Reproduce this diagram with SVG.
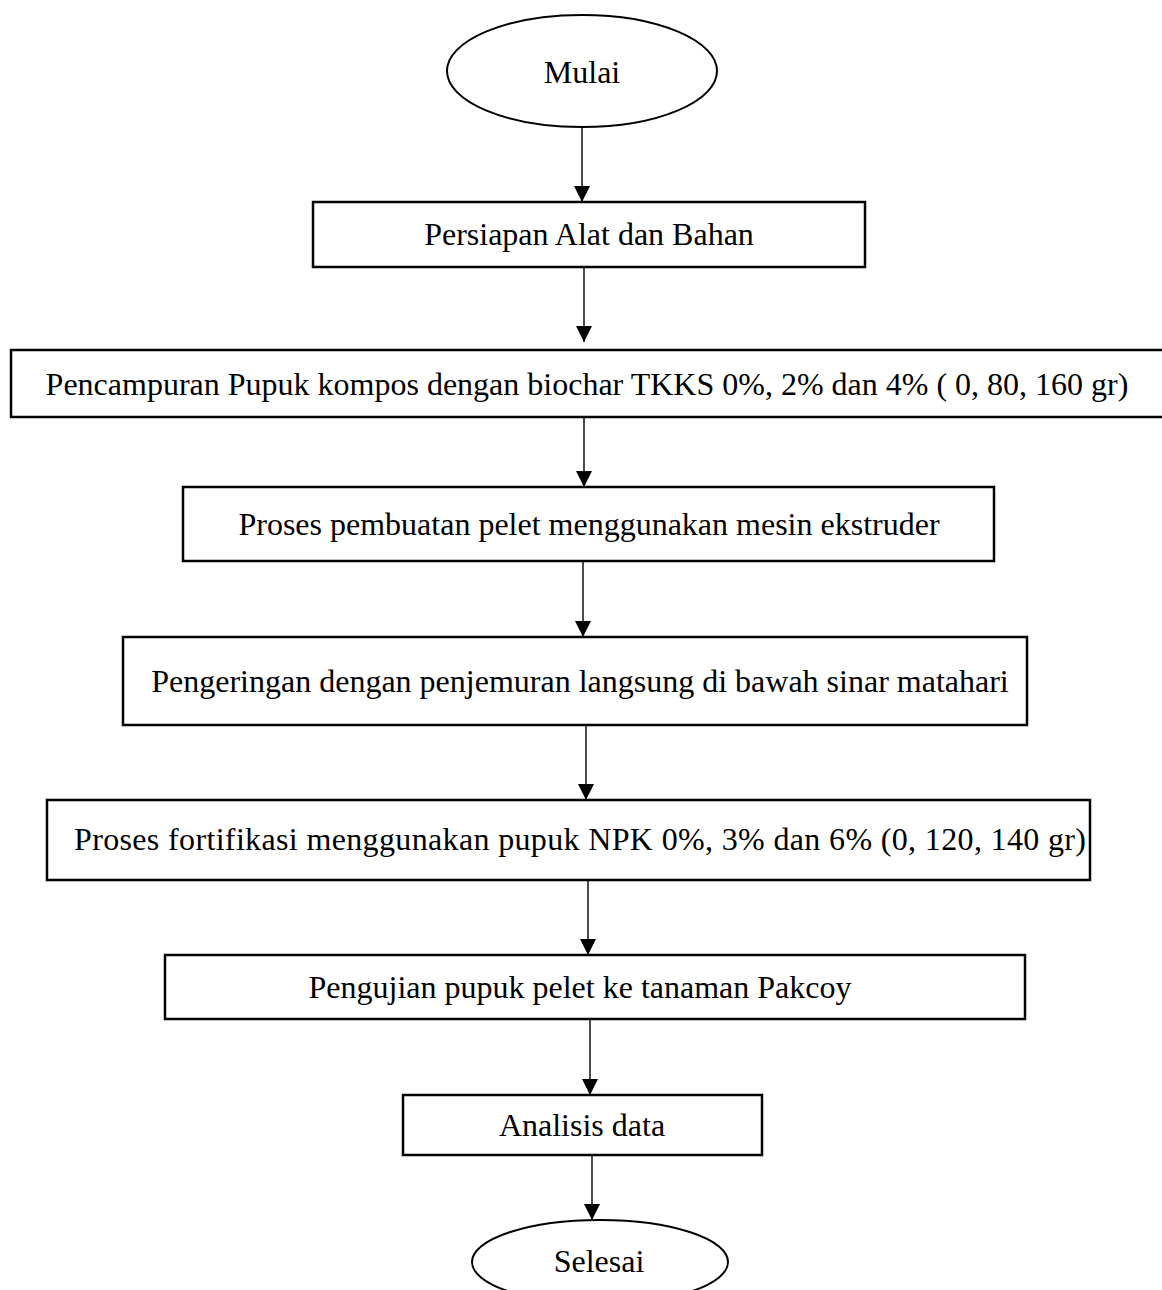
<svg xmlns="http://www.w3.org/2000/svg" width="1162" height="1290" viewBox="0 0 1162 1290">
<defs>
<style>
.box{fill:#fff;stroke:#000;stroke-width:2.5}
.term{fill:#fff;stroke:#000;stroke-width:2}
.lbl{font-family:"Liberation Serif","Times New Roman",serif;font-size:32px;fill:#000;text-anchor:middle}
.conn{stroke:#000;stroke-width:1.4;fill:none}
</style>
<marker id="ah" markerUnits="userSpaceOnUse" markerWidth="16" markerHeight="16" viewBox="0 0 16 16" refX="16" refY="8" orient="auto">
<path d="M0,0 L16,8 L0,16 Z" fill="#000"/>
</marker>
</defs>
<rect width="1162" height="1290" fill="#fff"/>
<g id="connectors">
<line class="conn" x1="582" y1="127" x2="582" y2="202" marker-end="url(#ah)"/>
<line class="conn" x1="584" y1="267" x2="584" y2="342" marker-end="url(#ah)"/>
<line class="conn" x1="584" y1="412" x2="584" y2="487" marker-end="url(#ah)"/>
<line class="conn" x1="583" y1="561" x2="583" y2="637" marker-end="url(#ah)"/>
<line class="conn" x1="586" y1="725" x2="586" y2="800" marker-end="url(#ah)"/>
<line class="conn" x1="588" y1="880" x2="588" y2="955" marker-end="url(#ah)"/>
<line class="conn" x1="590" y1="1019" x2="590" y2="1095" marker-end="url(#ah)"/>
<line class="conn" x1="592" y1="1144" x2="592" y2="1220" marker-end="url(#ah)"/>
</g>
<g id="mulai">
<ellipse class="term" cx="582" cy="71" rx="135" ry="56"/>
<text class="lbl" x="582" y="83">Mulai</text>
</g>
<g id="persiapan">
<rect class="box" x="313" y="202" width="552" height="65"/>
<text class="lbl" x="589" y="245">Persiapan Alat dan Bahan</text>
</g>
<g id="pencampuran">
<rect class="box" x="11" y="350" width="1156" height="67"/>
<text class="lbl" x="587" y="395">Pencampuran Pupuk kompos dengan biochar TKKS 0%, 2% dan 4% ( 0, 80, 160 gr)</text>
</g>
<g id="pelet">
<rect class="box" x="183" y="487" width="811" height="74"/>
<text class="lbl" x="589" y="535">Proses pembuatan pelet menggunakan mesin ekstruder</text>
</g>
<g id="pengeringan">
<rect class="box" x="123" y="637" width="904" height="88"/>
<text class="lbl" x="580" y="692">Pengeringan dengan penjemuran langsung di bawah sinar matahari</text>
</g>
<g id="fortifikasi">
<rect class="box" x="47" y="800" width="1043" height="80"/>
<text class="lbl" x="580" y="850" textLength="1012" lengthAdjust="spacing">Proses fortifikasi menggunakan pupuk NPK 0%, 3% dan 6% (0, 120, 140 gr)</text>
</g>
<g id="pengujian">
<rect class="box" x="165" y="955" width="860" height="64"/>
<text class="lbl" x="580" y="998">Pengujian pupuk pelet ke tanaman Pakcoy</text>
</g>
<g id="analisis">
<rect class="box" x="403" y="1095" width="359" height="60"/>
<text class="lbl" x="582" y="1136">Analisis data</text>
</g>
<g id="selesai">
<ellipse class="term" cx="600" cy="1262" rx="128" ry="42"/>
<text class="lbl" x="599" y="1272">Selesai</text>
</g>
</svg>
